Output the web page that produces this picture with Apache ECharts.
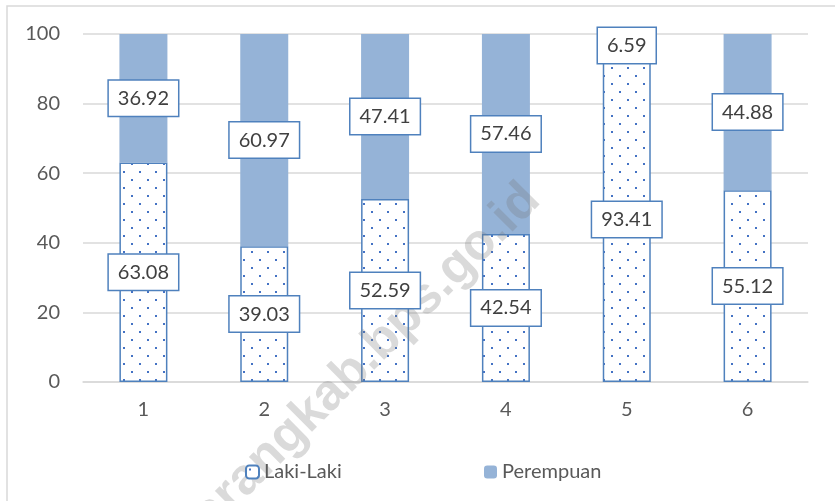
<!DOCTYPE html>
<html>
<head>
<meta charset="utf-8">
<script src="https://cdn.jsdelivr.net/npm/echarts@6/dist/echarts.min.js"></script>
<style>
  html, body { margin: 0; padding: 0; background: #fff; }
  #chart { width: 835px; height: 501px; }
</style>
</head>
<body>
<div id="chart"></div>
<script>
  // data
  const categories = ['1', '2', '3', '4', '5', '6']
  const lakiLaki = [63.08, 39.03, 52.59, 42.54, 93.41, 55.12]
  const perempuan = [36.92, 60.97, 47.41, 57.46, 6.59, 44.88]
  const yTicks = { min: 0, max: 100, interval: 20 }

  const font = 'Lato'
  const blue = '#4F81BD'

  // dotted fill for Laki-Laki bars
  function dotPattern() {
    let c = document.createElement('canvas')
    c.width = 16
    c.height = 16
    let ctx = c.getContext('2d')
    ctx.fillStyle = '#ffffff'
    ctx.fillRect(0, 0, 16, 16)
    ctx.fillStyle = '#4472C4'
    ctx.fillRect(3, 3, 2, 2)
    ctx.fillRect(11, 11, 2, 2)
    return c
  }

  const labelStyle = {
    show: true,
    position: 'inside',
    color: '#404040',
    fontFamily: font,
    fontSize: 20,
    backgroundColor: '#ffffff',
    borderColor: blue,
    borderWidth: 1.5,
    padding: [8, 9, 7, 9],
    formatter: (p) => p.value.toFixed(2)
  }

  let myChart = echarts.init(document.getElementById('chart'))
  let options = {
    animation: false,
    textStyle: { fontFamily: font },
    grid: { left: 83, right: 27, top: 34, bottom: 119 },
    legend: [
      {
        data: ['Laki-Laki'],
        left: 240, top: 457,
        itemWidth: 13, itemHeight: 13, itemGap: 5,
        textStyle: { fontSize: 20, color: '#595959', fontFamily: font }
      },
      {
        data: ['Perempuan'],
        left: 479, top: 457,
        itemWidth: 13, itemHeight: 13, itemGap: 5,
        textStyle: { fontSize: 20, color: '#595959', fontFamily: font }
      }
    ],
    xAxis: {
      type: 'category',
      data: categories,
      axisLine: { lineStyle: { color: '#D9D9D9', width: 1.5 } },
      axisTick: { show: false },
      axisLabel: { color: '#595959', fontSize: 20, margin: 18, fontFamily: font }
    },
    yAxis: {
      type: 'value',
      min: yTicks.min,
      max: yTicks.max,
      interval: yTicks.interval,
      axisLine: { show: false },
      axisTick: { show: false },
      axisLabel: { color: '#595959', fontSize: 20, margin: 23, fontFamily: font },
      splitLine: { lineStyle: { color: '#D9D9D9', width: 1.5 } }
    },
    series: [
      {
        name: 'Laki-Laki',
        type: 'bar',
        stack: 'total',
        barWidth: 48,
        barGap: '-100%',
        z: 2,
        data: lakiLaki,
        itemStyle: {
          color: { image: dotPattern(), repeat: 'repeat' },
          borderColor: blue,
          borderWidth: 1.5
        }
      },
      {
        name: 'Perempuan',
        type: 'bar',
        stack: 'total',
        barWidth: 48,
        barGap: '-100%',
        z: 2,
        data: perempuan,
        itemStyle: { color: '#95B3D7' }
      },
      // label-only copies so the boxes sit above the watermark
      {
        name: 'lblLaki',
        type: 'bar',
        stack: 'labels',
        barWidth: 48,
        barGap: '-100%',
        z: 5,
        silent: true,
        data: lakiLaki,
        itemStyle: { color: 'transparent' },
        label: labelStyle
      },
      {
        name: 'lblPerempuan',
        type: 'bar',
        stack: 'labels',
        barWidth: 48,
        barGap: '-100%',
        z: 5,
        silent: true,
        data: perempuan,
        itemStyle: { color: 'transparent' },
        label: labelStyle
      }
    ],
    graphic: [
      {
        type: 'polyline',
        shape: { points: [[7, 501], [7, 6], [835, 6]] },
        style: { stroke: '#D9D9D9', lineWidth: 1.5, fill: null },
        silent: true
      },
      {
        type: 'text',
        x: 532, y: 192,
        rotation: Math.PI / 4,
        z: 3,
        silent: true,
        style: {
          text: 'semarangkab.bps.go.id',
          align: 'right',
          verticalAlign: 'middle',
          fontFamily: 'Liberation Sans',
          fontWeight: 'bold',
          fontSize: 51,
          fill: 'rgba(120,120,120,0.27)'
        }
      }
    ]
  }
  myChart.setOption(options)
  window.addEventListener('resize', () => {
    myChart.resize()
  })
</script>
</body>
</html>
